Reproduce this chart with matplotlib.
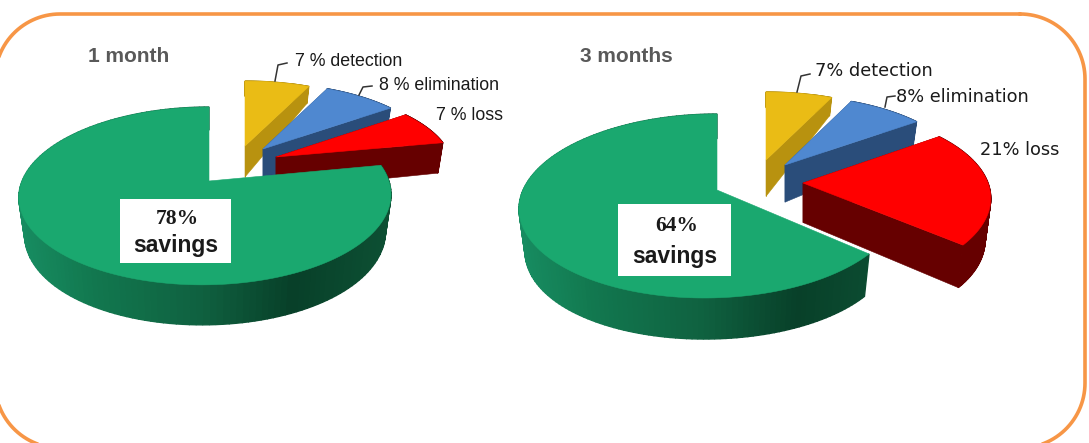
import numpy as np
import matplotlib
matplotlib.use('Agg')
import matplotlib.pyplot as plt
from matplotlib.patches import Polygon

# share of each slice, clockwise from 12 o'clock
names = ['detection', 'elimination', 'loss', 'savings']
month1 = [7, 8, 7, 78]
month3 = [7, 8, 21, 64]
titles = ['1 month', '3 months']
labels1 = ['7 % detection', '8 % elimination', '7 % loss']
labels3 = ['7% detection', '8% elimination', '21% loss']

top_colors = ['#eabc15', '#4f88d0', '#ff0000', '#1aa86f']
wall_colors = ['#b8920f', '#2a4d7a', '#660000', None]
green_wall_x = [0.0, 0.2, 0.5, 0.75, 1.0]
green_wall_c = [(0.09, 0.55, 0.38), (0.07, 0.47, 0.31), (0.06, 0.38, 0.25),
                (0.03, 0.25, 0.16), (0.05, 0.31, 0.20)]


def wall_shade(frac):
    return [float(np.interp(frac, green_wall_x, [c[i] for c in green_wall_c])) for i in range(3)]


def draw_slice(ax, a0, a1, apex, top, wall, p):
    # plane position of the slice tip, from where it lands on screen
    dy = p['cy'] - apex[1]
    oy = dy / (p['Q'] - p['k'] * dy)

    ang = np.radians(np.linspace(a0, a1, 160))
    y = oy + np.sin(ang)
    w = 1 + p['k'] * y
    # only the big slice leans to the left at the front
    lean = p['s'] if wall is None else 0
    sx = apex[0] + p['R'] * np.cos(ang) / w - lean * (1 - np.sin(ang))
    sy = p['cy'] - p['Q'] * y / w
    a, b, c = p['depth']
    lowx = apex[0] + (sx - apex[0]) * 0.97
    lowy = sy + a + b * y + c * y * y
    rim_top = np.column_stack([sx, sy])
    rim_low = np.column_stack([lowx, lowy])
    ap_top = (apex[0], apex[1])
    ap_low = (apex[0], apex[1] + a + b * oy + c * oy * oy)

    # cut faces
    if wall is not None:
        for i in [0, -1]:
            ax.add_patch(Polygon([ap_top, rim_top[i], rim_low[i], ap_low], fc=wall, ec=wall, lw=0.4))
    # outer wall in thin strips so the green one can carry its gradient
    x0, x1 = p['left'], p['left'] + 2 * p['R']
    for i in range(len(ang) - 1):
        if wall is None:
            col = wall_shade((sx[i] - x0) / (x1 - x0))
        else:
            col = wall
        ax.add_patch(Polygon([rim_top[i], rim_top[i + 1], rim_low[i + 1], rim_low[i]], fc=col, ec=col, lw=1.0))
    ax.add_patch(Polygon(np.vstack([[ap_top], rim_top]), fc=top, ec=top, lw=0.4))


def draw_pie(ax, values, apexes, p):
    start = 90.0
    for v, apex, top, wall in zip(values, apexes, top_colors, wall_colors):
        end = start - 360.0 * v / sum(values)
        draw_slice(ax, start, end, apex, top, wall, p)
        start = end


def rounded_frame(x0, y0, x1, y1, r):
    t = np.linspace(0, np.pi / 2, 30)
    xs = np.concatenate([x1 - r + r * np.sin(t), x1 - r + r * np.cos(t), x0 + r - r * np.sin(t), x0 + r - r * np.cos(t)])
    ys = np.concatenate([y0 + r - r * np.cos(t), y1 - r + r * np.sin(t), y1 - r + r * np.cos(t), y0 + r - r * np.sin(t)])
    return np.append(xs, xs[0]), np.append(ys, ys[0])


fig = plt.figure(figsize=(10.89, 4.43), dpi=100)
ax = fig.add_axes([0, 0, 1, 1])
ax.set_xlim(0, 1089)
ax.set_ylim(443, 0)
ax.axis('off')

pie1 = {'cy': 181, 'R': 183.4, 'Q': 86.4, 'k': 0.168, 's': 3.5, 'left': 20, 'depth': (35.4, -8.5, -3.9)}
pie3 = {'cy': 190, 'R': 187.5, 'Q': 89.2, 'k': 0.174, 's': 6.4, 'left': 519, 'depth': (40.2, -8.2, -7.36)}
apex1 = [(245, 146), (263, 149), (276, 157), (209, 181)]
apex3 = [(766, 160), (785, 165), (803, 183), (717, 190)]

draw_pie(ax, month1, apex1, pie1)
draw_pie(ax, month3, apex3, pie3)

fx, fy = rounded_frame(-5, 14, 1085, 448, 65)
ax.plot(fx, fy, color='#f79646', lw=2.6, solid_capstyle='round', solid_joinstyle='round')

sans = 'Liberation Sans'
ax.text(88, 56, titles[0], fontsize=15, fontweight='bold', color='#595959', family=sans, va='center')
ax.text(580, 56, titles[1], fontsize=15, fontweight='bold', color='#595959', family=sans, va='center')

for txt, x, y in zip(labels1, [295, 379, 436], [61, 85, 115]):
    ax.text(x, y, txt, fontsize=12.8, color='#1a1a1a', family=sans, va='center')
for txt, x, y in zip(labels3, [815, 896, 980], [71, 97, 150]):
    ax.text(x, y, txt, fontsize=12.8, color='#1a1a1a', family='DejaVu Sans', va='center')

leaders = [[(275, 81), (278, 65), (287, 63)], [(359, 95), (363, 87), (372, 86)],
           [(797, 92), (801, 76), (810, 74)], [(885, 107), (887, 97), (895, 96)]]
for pts in leaders:
    ax.plot([q[0] for q in pts], [q[1] for q in pts], color='#333333', lw=1.1)

for (x0, y0, w, h), pct in [((120, 199, 111, 64), month1[3]), ((618, 204, 113, 72), month3[3])]:
    ax.add_patch(plt.Rectangle((x0, y0), w, h, fc='white', ec='none'))
    ax.text(x0 + w / 2 + 2, y0 + h * 0.31, '%d%%' % pct, fontsize=15.5, fontweight='bold', color='#1a1a1a',
            family='Liberation Serif', ha='center', va='center')
    ax.text(x0 + w / 2, y0 + h * 0.73, 'savings', fontsize=16.5, fontweight='bold', color='#1a1a1a',
            family=sans, ha='center', va='center')

fig.savefig('out.png', dpi=100)
